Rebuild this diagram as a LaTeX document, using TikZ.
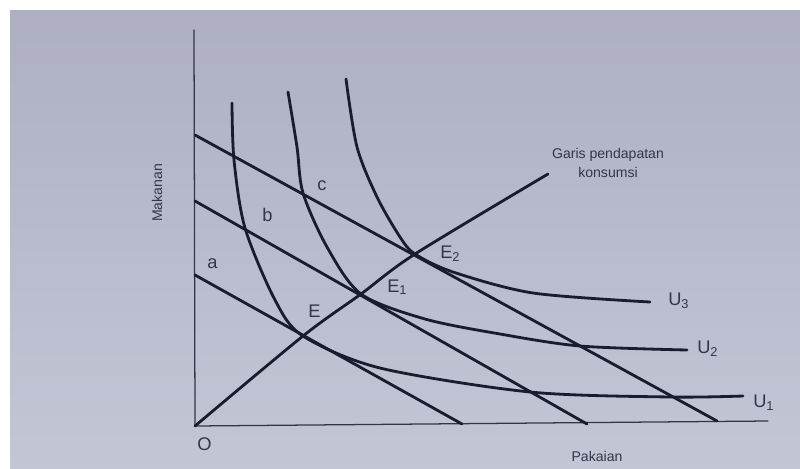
\documentclass[tikz,border=0pt]{standalone}
\usepackage{fontspec}
\setmainfont{Liberation Sans}
\usepackage{tikz}
\definecolor{kertas}{RGB}{194,198,213}
\definecolor{kertasgelap}{RGB}{174,176,194}
\definecolor{tinta}{RGB}{26,28,46}
\definecolor{teks}{RGB}{52,54,72}

\begin{document}
\begin{tikzpicture}[x=0.025cm, y=-0.025cm, line join=round, line cap=round,
  kurva/.style={tinta, line width=2pt},
  garis/.style={tinta, line width=2pt},
  sumbu/.style={teks, line width=0.9pt},
  lbl/.style={teks, font=\fontsize{13}{13}\selectfont, inner sep=0pt, anchor=base west},
  ket/.style={teks, font=\fontsize{10}{13.5}\selectfont, inner sep=0pt}]
  \useasboundingbox (0,0) rectangle (800,468);
  \fill[white] (0,0) rectangle (800,468);
  \shade[top color=kertasgelap, bottom color=kertas] (10,10) rectangle (800,468);

  \coordinate (O) at (195,426);
  \coordinate (ytop) at (194,30);
  \coordinate (xend) at (768,421);
  \coordinate (A1) at (195,275); \coordinate (B1) at (462,424);
  \coordinate (A2) at (195,201); \coordinate (B2) at (587,424);
  \coordinate (A3) at (195,135); \coordinate (B3) at (717,421);
  \coordinate (E) at (303,336);
  \coordinate (E1) at (361,294);
  \coordinate (E2) at (415,254);
  \coordinate (icc) at (548,174);

  \draw[sumbu] (ytop) -- (O) -- (xend);
  \draw[garis] (A1) -- (B1);
  \draw[garis] (A2) -- (B2);
  \draw[garis] (A3) -- (B3);
  \draw[garis] plot[smooth] coordinates {(O) (E) (E1) (E2) (icc)};

  \draw[kurva] plot[smooth] coordinates {(232,103) (234,160) (245,228) (275,300) (E) (380,368) (530,392) (670,397) (743,396)};
  \draw[kurva] plot[smooth] coordinates {(288,92) (297,147) (303,193) (327,247) (E1) (425,319) (500,334) (580,346) (687,350)};
  \draw[kurva] plot[smooth] coordinates {(346,79) (357,147) (377,197) (400,237) (E2) (453,272) (533,293) (650,302)};

  \node[lbl] (la) at (207,268) {a};
  \node[lbl] (lb) at (262,221) {b};
  \node[lbl] (lc) at (317,190) {c};
  \node[lbl] (lE) at (308,317) {E};
  \node[lbl] (lE1) at (387,292) {E\textsubscript{1}};
  \node[lbl] (lE2) at (440,258) {E\textsubscript{2}};
  \node[lbl] (lU3) at (668,305) {U\textsubscript{3}};
  \node[lbl] (lU2) at (697,353) {U\textsubscript{2}};
  \node[lbl] (lU1) at (753,407) {U\textsubscript{1}};
  \node[lbl] (lO) at (197,450) {O};

  \node[ket, rotate=90] (makanan) at (157,193) {Makanan};
  \node[ket] (pakaian) at (597,456) {Pakaian};
  \node[ket, align=center] (gpk) at (608,163) {Garis pendapatan\\konsumsi};
\end{tikzpicture}
\end{document}
